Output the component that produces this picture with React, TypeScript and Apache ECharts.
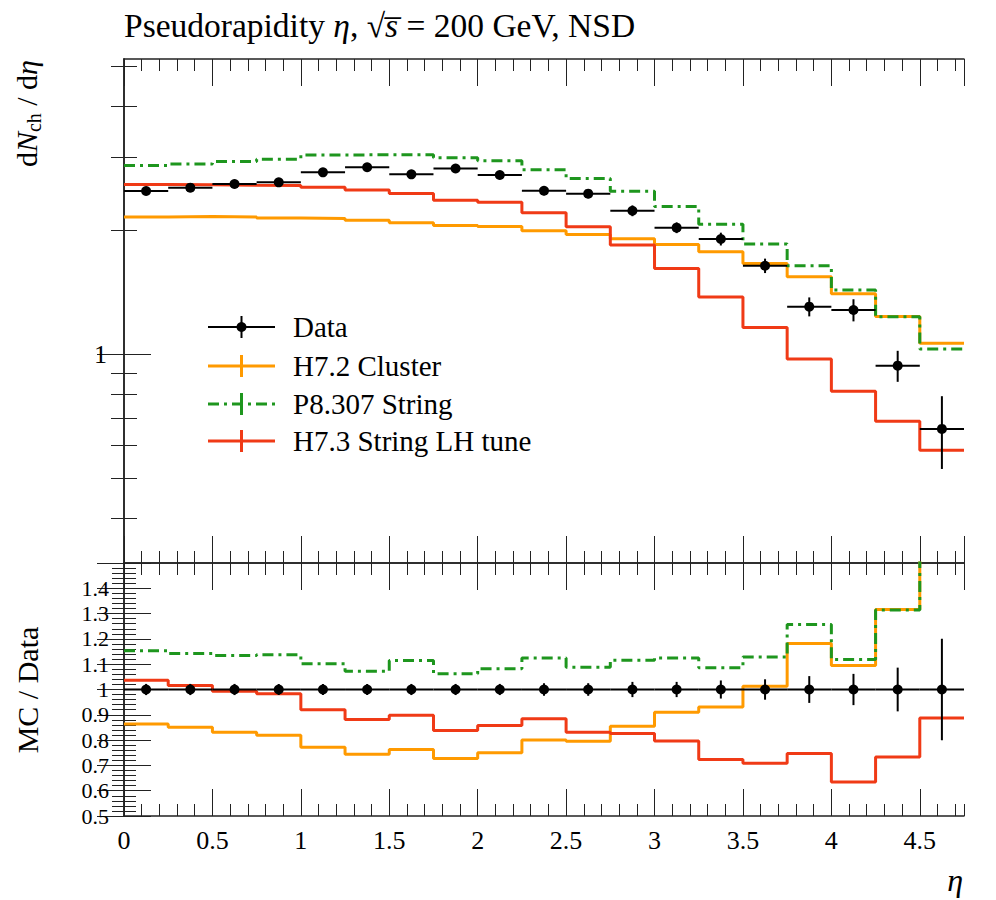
import React, { useEffect, useRef } from 'react';
import * as echarts from 'echarts';

// ---- data ----
const etaEdges = [0, 0.25, 0.5, 0.75, 1, 1.25, 1.5, 1.75, 2, 2.25, 2.5, 2.75, 3, 3.25, 3.5, 3.75, 4, 4.25, 4.5, 4.75];
const dataValues = [2.487, 2.533, 2.586, 2.61, 2.76, 2.84, 2.73, 2.82, 2.72, 2.49, 2.45, 2.227, 2.026, 1.902, 1.638, 1.303, 1.279, 0.937, 0.658];
const dataErrors = [0.055, 0.056, 0.057, 0.057, 0.06, 0.062, 0.06, 0.062, 0.06, 0.062, 0.061, 0.067, 0.061, 0.068, 0.066, 0.069, 0.079, 0.081, 0.132];
const h72Cluster = [2.149, 2.156, 2.149, 2.138, 2.131, 2.113, 2.083, 2.05, 2.04, 1.992, 1.95, 1.904, 1.844, 1.771, 1.659, 1.54, 1.4, 1.233, 1.062];
const p8307String = [2.868, 2.893, 2.933, 2.968, 3.042, 3.044, 3.044, 2.995, 2.943, 2.801, 2.666, 2.485, 2.279, 2.066, 1.848, 1.638, 1.431, 1.231, 1.028];
const h73StringLH = [2.577, 2.574, 2.568, 2.566, 2.539, 2.502, 2.452, 2.363, 2.334, 2.201, 2.036, 1.84, 1.613, 1.375, 1.16, 0.973, 0.812, 0.687, 0.584];

const logMajorTicks = [1];
const logMinorTicks = [0.4, 0.5, 0.6, 0.7, 0.8, 0.9, 2, 3, 4, 5];
const yLogMin = 0.311;
const yLogMax = 5.2;

const legendNames = ['Data', 'H7.2 Cluster', 'P8.307 String', 'H7.3 String LH tune'];

const FONT = 'Liberation Serif';
const AX = '#222';
const C_ORANGE = '#ff9a00';
const C_GREEN = '#1e961e';
const C_RED = '#f03a16';
const GREEN_DASH = [11, 5, 3, 5];

function stepData(values: number[]) {
  return etaEdges.map((e, i) => [e, values[Math.min(i, values.length - 1)]]);
}
function ratioOf(values: number[]) {
  return values.map((v, i) => v / dataValues[i]);
}

function pointsItems(vals: number[], errs: number[]) {
  return vals.map((v, i) => [etaEdges[i], etaEdges[i + 1], (etaEdges[i] + etaEdges[i + 1]) / 2, v, errs[i]]);
}

const renderPoint = (params: any, api: any) => {
  const x0 = api.value(0), x1 = api.value(1), xc = api.value(2), y = api.value(3), e = api.value(4);
  const pL = api.coord([x0, y]);
  const pR = api.coord([x1, y]);
  const pC = api.coord([xc, y]);
  const pT = api.coord([xc, y + e]);
  const pB = api.coord([xc, y - e]);
  const st = { stroke: '#000', lineWidth: 2 };
  return {
    type: 'group',
    children: [
      { type: 'line', shape: { x1: pL[0], y1: pL[1], x2: pR[0], y2: pR[1] }, style: st },
      { type: 'line', shape: { x1: pT[0], y1: pT[1], x2: pB[0], y2: pB[1] }, style: st },
      { type: 'circle', shape: { cx: pC[0], cy: pC[1], r: 5 }, style: { fill: '#000' } },
    ],
  };
};

const lineStyle = { color: AX, width: 1 };

function xMajor(gridIndex: number, position: string, labels: boolean) {
  return {
    type: 'value', gridIndex, position, min: 0, max: 4.75, interval: 0.5,
    axisLine: { show: true, lineStyle: { color: AX, width: 1.5 } },
    axisTick: { show: true, inside: true, length: 27, lineStyle },
    axisLabel: { show: labels, showMinLabel: true, showMaxLabel: false, margin: 11, fontFamily: FONT, fontSize: 26, color: '#000' },
    splitLine: { show: false },
  };
}
function xMinor(gridIndex: number, position: string) {
  return {
    type: 'value', gridIndex, position, min: 0, max: 4.75, interval: 0.1,
    axisLine: { show: false },
    axisTick: { show: true, inside: true, length: 12, lineStyle },
    axisLabel: { show: false },
    splitLine: { show: false },
  };
}
function yLog(position: string, major: boolean, labels: boolean) {
  return {
    type: 'log', gridIndex: 0, position, logBase: 10, min: yLogMin, max: yLogMax,
    axisLine: { show: major, lineStyle: { color: AX, width: 1.5 } },
    axisTick: { show: true, inside: true, length: major ? 27 : 13, customValues: major ? logMajorTicks : logMinorTicks, lineStyle },
    axisLabel: { show: labels, customValues: logMajorTicks, margin: 17, fontFamily: FONT, fontSize: 26, color: '#000' },
    splitLine: { show: false },
    minorTick: { show: false },
  };
}
function yRatio(position: string, labels: boolean) {
  return {
    type: 'value', gridIndex: 1, position, min: 0.5, max: 1.5, interval: 0.1,
    axisLine: { show: true, lineStyle: { color: AX, width: 1.5 } },
    axisTick: { show: true, inside: true, length: 27, lineStyle },
    minorTick: { show: true, splitNumber: 5, length: 12, lineStyle },
    axisLabel: { show: labels, showMinLabel: true, showMaxLabel: false, margin: 15, fontFamily: FONT, fontSize: 22, lineHeight: 22, color: '#000' },
    splitLine: { show: false },
  };
}

function mcSeries(name: string, values: number[], color: string, dash: any, xi: number, yi: number, z: number) {
  return {
    type: 'line', name, xAxisIndex: xi, yAxisIndex: yi, data: stepData(values), step: 'end',
    symbol: 'none', z,
    lineStyle: { color, width: 3, type: dash || 'solid' },
  };
}

const legendRows = [
  { y: 327, color: '#000', dash: null as any, marker: true },
  { y: 366, color: C_ORANGE, dash: null as any, marker: false },
  { y: 404, color: C_GREEN, dash: GREEN_DASH, marker: false },
  { y: 441, color: C_RED, dash: null as any, marker: false },
];

function legendGraphics() {
  const out: any[] = [];
  legendRows.forEach((r, i) => {
    const w = r.marker ? 2 : 3;
    out.push({ type: 'line', shape: { x1: 208, y1: r.y, x2: 275, y2: r.y }, style: { stroke: r.color, lineWidth: w, lineDash: r.dash || null } });
    out.push({ type: 'line', shape: { x1: 241.5, y1: r.y - 11, x2: 241.5, y2: r.y + 11 }, style: { stroke: r.color, lineWidth: w } });
    if (r.marker) out.push({ type: 'circle', shape: { cx: 241.5, cy: r.y, r: 5 }, style: { fill: '#000' } });
    out.push({ type: 'text', x: 293, y: r.y, style: { text: legendNames[i], fontFamily: FONT, fontSize: 29, fill: '#000', align: 'left', verticalAlign: 'middle' } });
  });
  return out;
}

const option: any = {
  animation: false,
  grid: [
    { left: 124, top: 59, width: 840, height: 504 },
    { left: 124, top: 563, width: 840, height: 253 },
  ],
  xAxis: [
    xMajor(0, 'bottom', false), xMinor(0, 'bottom'), xMajor(0, 'top', false), xMinor(0, 'top'),
    xMajor(1, 'bottom', true), xMinor(1, 'bottom'), xMajor(1, 'top', false), xMinor(1, 'top'),
  ],
  yAxis: [
    yLog('left', true, true), yLog('left', false, false), yLog('right', true, false), yLog('right', false, false),
    yRatio('left', true), yRatio('right', false),
  ],
  series: [
    mcSeries('H7.2 Cluster', h72Cluster, C_ORANGE, null, 0, 0, 2),
    mcSeries('H7.3 String LH tune', h73StringLH, C_RED, null, 0, 0, 3),
    mcSeries('P8.307 String', p8307String, C_GREEN, GREEN_DASH, 0, 0, 4),
    { type: 'custom', name: 'Data', xAxisIndex: 0, yAxisIndex: 0, data: pointsItems(dataValues, dataErrors), renderItem: renderPoint, z: 10 },
    mcSeries('H7.2 Cluster ratio', ratioOf(h72Cluster), C_ORANGE, null, 4, 4, 2),
    mcSeries('H7.3 String LH tune ratio', ratioOf(h73StringLH), C_RED, null, 4, 4, 3),
    mcSeries('P8.307 String ratio', ratioOf(p8307String), C_GREEN, GREEN_DASH, 4, 4, 4),
    {
      type: 'custom', name: 'Data ratio', xAxisIndex: 4, yAxisIndex: 4,
      data: pointsItems(dataValues.map(() => 1), dataErrors.map((e, i) => e / dataValues[i])),
      renderItem: renderPoint, z: 10,
    },
  ],
  graphic: [
    {
      type: 'text', x: 124, y: 25,
      style: {
        text: '{r|Pseudorapidity }{i|η}{r|, √}{i|s\u0305}{r| = 200 GeV, NSD}',
        rich: {
          r: { fontFamily: FONT, fontSize: 33.5, fill: '#000' },
          i: { fontFamily: FONT, fontSize: 33.5, fontStyle: 'italic', fill: '#000' },
        },
        align: 'left', verticalAlign: 'middle',
      },
    },
    {
      type: 'text', x: 26, y: 60, rotation: Math.PI / 2,
      style: {
        text: '{r|d}{i|N}{s|ch}{r| / d}{i|η}',
        rich: {
          r: { fontFamily: FONT, fontSize: 30, lineHeight: 36, fill: '#000' },
          i: { fontFamily: FONT, fontSize: 30, lineHeight: 36, fontStyle: 'italic', fill: '#000' },
          s: { fontFamily: FONT, fontSize: 20, lineHeight: 16, verticalAlign: 'bottom', fill: '#000' },
        },
        align: 'right', verticalAlign: 'middle',
      },
    },
    {
      type: 'text', x: 27, y: 690, rotation: Math.PI / 2,
      style: { text: 'MC / Data', fontFamily: FONT, fontSize: 30, fill: '#000', align: 'center', verticalAlign: 'middle' },
    },
    {
      type: 'text', x: 963, y: 880,
      style: { text: 'η', fontFamily: FONT, fontSize: 32, fontStyle: 'italic', fill: '#000', align: 'right', verticalAlign: 'middle' },
    },
    ...legendGraphics(),
  ],
};

export default function App() {
  const ref = useRef<HTMLDivElement>(null);
  useEffect(() => {
    const chart = echarts.init(ref.current as HTMLDivElement, null, { renderer: 'svg' });
    chart.setOption(option);
    return () => chart.dispose();
  }, []);
  return <div ref={ref} style={{ position: 'absolute', left: 0, top: 0, width: 996, height: 900, background: '#fff' }} />;
}
